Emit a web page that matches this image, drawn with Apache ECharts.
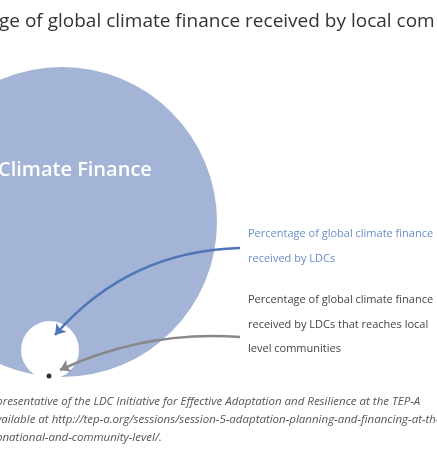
<!DOCTYPE html>
<html><head><meta charset="utf-8">
<script src="https://cdn.jsdelivr.net/npm/echarts@6/dist/echarts.min.js"></script>
<style>html,body{margin:0;padding:0;background:#fff}#c{width:437px;height:461px}</style>
</head><body><div id="c"></div>
<script>
// circles: global finance, LDC share, local-level share
const circleNames = ['Global', 'LDCs', 'Local']
const circleX = [62, 50, 49]
const circleY = [222, 350, 376]
const circleR = [155, 29, 2.5]
const circleColors = ['#a3b4d6', '#ffffff', '#333333']

// arrows from labels to circles
const arrowFrom = [[240, 248], [240, 337]]
const arrowTo = [[55, 335], [60, 370]]
const arrowColors = ['#4f75b8', '#888888']
const arrowCurve = [-0.22, -0.13]

const chart = echarts.init(document.getElementById('c'), null, { renderer: 'canvas' })
const font = '"Open Sans", "Noto Sans", sans-serif'

chart.setOption({
  animation: false,
  grid: { left: 0, top: 0, width: 437, height: 461 },
  xAxis: { type: 'value', min: 0, max: 437, show: false },
  yAxis: { type: 'value', min: 0, max: 461, inverse: true, show: false },
  series: [
    {
      type: 'scatter',
      data: circleNames.map((n, i) => ({
        name: n, value: [circleX[i], circleY[i]],
        symbolSize: circleR[i] * 2,
        itemStyle: { color: circleColors[i], opacity: 1 }
      })),
      z: 2
    },
    {
      type: 'lines',
      coordinateSystem: 'cartesian2d',
      symbol: ['none', 'arrow'],
      symbolSize: 10,
      data: arrowFrom.map((f, i) => ({
        coords: [f, arrowTo[i]],
        lineStyle: { color: arrowColors[i], width: 2.5, curveness: arrowCurve[i], opacity: 1 }
      })),
      z: 3
    }
  ],
  graphic: [
    { type: 'text', left: -1, top: 12, style: { text: 'ge of global climate finance received by local com', font: '19px ' + font, fill: '#333' } },
    { type: 'text', left: -2, top: 160, style: { text: 'Climate Finance', font: '600 20px ' + font, fill: '#fff' }, z: 10 },
    { type: 'text', left: 248, top: 228, style: { text: 'Percentage of global climate finance\n\nreceived by LDCs', font: '11px ' + font, fill: '#6b8cc7', lineHeight: 12.5 } },
    { type: 'text', left: 248, top: 294, style: { text: 'Percentage of global climate finance\n\nreceived by LDCs that reaches local\n\nlevel communities', font: '11px ' + font, fill: '#444', lineHeight: 12.2 } },
    { type: 'text', left: -4, top: 393, style: { text: 'presentative of the LDC Initiative for Effective Adaptation and Resilience at the TEP-A\nvailable at http://tep-a.org/sessions/session-5-adaptation-planning-and-financing-at-the-\nonational-and-community-level/.', font: 'italic 11.5px ' + font, fill: '#555', lineHeight: 18 } }
  ]
})
</script></body></html>
